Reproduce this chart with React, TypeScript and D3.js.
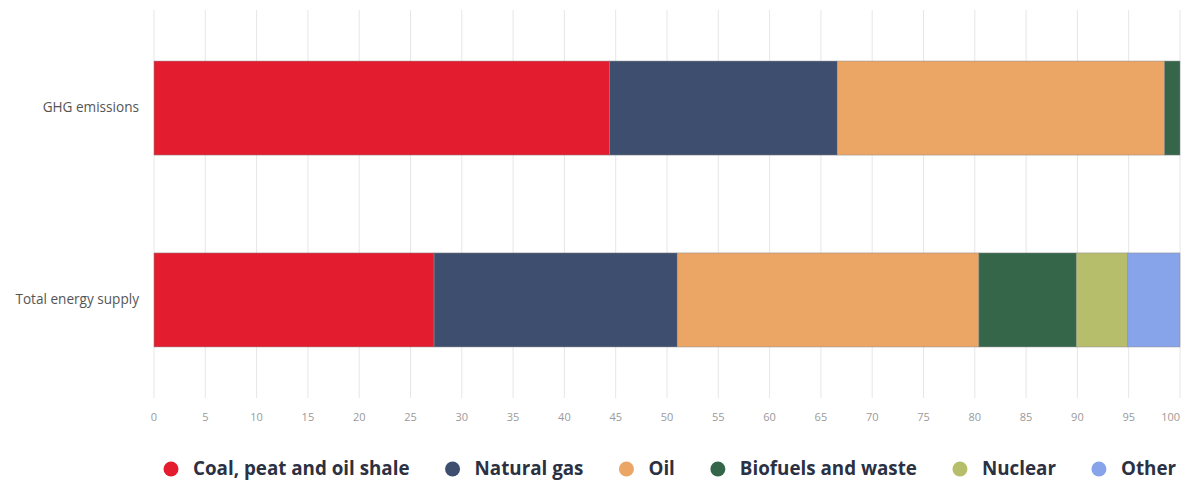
import React, { useLayoutEffect, useRef, useState } from "react";
import * as d3 from "d3";

const categories = ["GHG emissions", "Total energy supply"];
const seriesNames = ["Coal, peat and oil shale", "Natural gas", "Oil", "Biofuels and waste", "Nuclear", "Other"];
const seriesColors = ["#e31d2f", "#3d4e6e", "#eba565", "#35664a", "#b6bd6b", "#87a3e9"];
const coal = [44.4, 27.3];
const naturalGas = [22.2, 23.7];
const oil = [31.9, 29.4];
const biofuels = [1.5, 9.5];
const nuclear = [0, 5.0];
const other = [0, 5.1];
const tickValues = [0, 5, 10, 15, 20, 25, 30, 35, 40, 45, 50, 55, 60, 65, 70, 75, 80, 85, 90, 95, 100];

const W = 1181;
const H = 480;
const FONT = "'Open Sans', sans-serif";

export default function App() {
  const legendRef = useRef<SVGGElement | null>(null);
  const [legendX, setLegendX] = useState<number[]>(seriesNames.map((_, i) => 171 + i * 190));

  const x = d3.scaleLinear().domain([0, 100]).range([154, 1180]);
  const y = d3.scaleBand<string>().domain(categories).range([10, 398]).paddingInner(0.51).paddingOuter(0.266);

  const seriesValues = [coal, naturalGas, oil, biofuels, nuclear, other];
  const rows = categories.map((c, ci) => {
    const obj: any = { category: c };
    seriesNames.forEach((s, si) => (obj[s] = seriesValues[si][ci]));
    return obj;
  });
  const stacked = d3.stack<any>().keys(seriesNames)(rows);

  useLayoutEffect(() => {
    if (!legendRef.current) return;
    const texts = legendRef.current.querySelectorAll("text");
    const xs: number[] = [];
    let cx = 171;
    texts.forEach((t) => {
      xs.push(cx);
      const w = (t as SVGTextElement).getComputedTextLength();
      cx = cx + 22 + w + 43;
    });
    if (xs.some((v, i) => Math.abs(v - legendX[i]) > 0.5)) setLegendX(xs);
  });

  return (
    <svg width={W} height={H} style={{ position: "absolute", left: 0, top: 0, background: "#fff" }}>
      <g>
        {tickValues.map((t) => (
          <line key={t} x1={x(t)} x2={x(t)} y1={10} y2={398} stroke="#e6e6ea" strokeWidth={1} />
        ))}
      </g>
      <g>
        {tickValues.map((t, i) => {
          const last = i === tickValues.length - 1;
          return (
            <text
              key={t}
              x={last ? W - 1 : x(t)}
              y={418}
              textAnchor={last ? "end" : "middle"}
              dominantBaseline="middle"
              fontFamily={FONT}
              fontSize={11}
              fill="#9a9a9a"
            >
              {t}
            </text>
          );
        })}
      </g>
      <g>
        {categories.map((c) => (
          <text
            key={c}
            x={139}
            y={(y(c) as number) + y.bandwidth() / 2}
            textAnchor="end"
            dominantBaseline="middle"
            fontFamily={FONT}
            fontSize={13.6}
            fill="#555"
          >
            {c}
          </text>
        ))}
      </g>
      <g>
        {stacked.map((s, si) => (
          <g key={s.key} fill={seriesColors[si]}>
            {s.map((d, di) =>
              d[1] - d[0] > 0 ? (
                <rect
                  key={di}
                  x={x(d[0])}
                  y={y(d.data.category) as number}
                  width={x(d[1]) - x(d[0])}
                  height={y.bandwidth()}
                  stroke="#8a8a8a"
                  strokeOpacity={0.6}
                  strokeWidth={0.8}
                />
              ) : null
            )}
          </g>
        ))}
      </g>
      <g ref={legendRef}>
        {seriesNames.map((n, i) => (
          <g key={n}>
            <circle cx={legendX[i]} cy={469} r={7.5} fill={seriesColors[i]} />
            <text
              x={legendX[i] + 22}
              y={470}
              dominantBaseline="middle"
              fontFamily={FONT}
              fontWeight={700}
              fontSize={18.8}
              fill="#2b3142"
            >
              {n}
            </text>
          </g>
        ))}
      </g>
    </svg>
  );
}
